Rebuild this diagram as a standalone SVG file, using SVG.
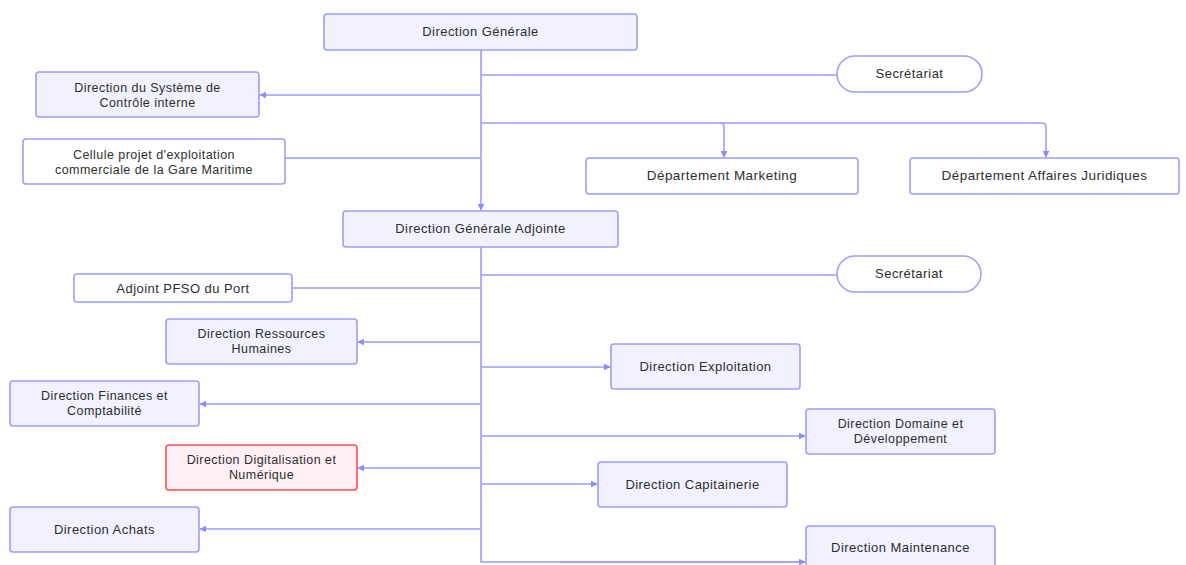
<svg xmlns="http://www.w3.org/2000/svg" width="1186" height="565" viewBox="0 0 1186 565">
  <defs>
    <style>
      .box { fill: #f1f1ff; stroke: #9d9dff; stroke-width: 1.6; }
      .plain { fill: #ffffff; stroke: #9d9dff; stroke-width: 1.6; }
      .alert { fill: #fff0f6; stroke: #ff4d4d; stroke-width: 1.6; }
      .lbl { font-family: "Liberation Sans", Arial, sans-serif; font-size: 13px; letter-spacing: 0.45px; fill: #2e2e2e; text-anchor: middle; dominant-baseline: central; }
      .two { font-size: 12.5px; }
      .edge { fill: none; stroke: #9d9dff; stroke-width: 1.6; }
      .arrow { marker-end: url(#head); }
    </style>
    <marker id="head" viewBox="0 0 10 10" refX="9" refY="5" markerWidth="7" markerHeight="7" markerUnits="userSpaceOnUse" orient="auto">
      <path d="M0,0 L10,5 L0,10 z" fill="#8c8cff"/>
    </marker>
  </defs>
  <rect width="1186" height="565" fill="#ffffff"/>

  <!-- connectors -->
  <g id="connectors">
    <path class="edge arrow" d="M481,50 V210"/>
    <path class="edge" d="M481,75 H837"/>
    <path class="edge arrow" d="M481,95 H260"/>
    <path class="edge arrow" d="M481,123 H720 Q724,123 724,127 V157"/>
    <path class="edge arrow" d="M720,123 H1042 Q1046,123 1046,127 V157"/>
    <path class="edge" d="M481,158 H285"/>
    <path class="edge" d="M481,247 V562 H805"/>
    <path class="edge arrow" d="M560,562 H805"/>
    <path class="edge" d="M481,275 H837"/>
    <path class="edge" d="M481,288 H292"/>
    <path class="edge arrow" d="M481,342 H358"/>
    <path class="edge arrow" d="M481,367 H610"/>
    <path class="edge arrow" d="M481,404 H200"/>
    <path class="edge arrow" d="M481,436 H805"/>
    <path class="edge arrow" d="M481,468 H358"/>
    <path class="edge arrow" d="M481,484 H597"/>
    <path class="edge arrow" d="M481,529 H200"/>
  </g>

  <!-- nodes -->
  <g id="direction-generale">
    <rect class="box" x="324" y="14" width="313" height="36" rx="3"/>
    <text class="lbl" x="480.5" y="31">Direction Générale</text>
  </g>
  <g id="secretariat-dg">
    <rect class="plain" x="837" y="56" width="145" height="36" rx="18"/>
    <text class="lbl" x="909.5" y="73">Secrétariat</text>
  </g>
  <g id="controle-interne">
    <rect class="box" x="36" y="72" width="223" height="45" rx="3"/>
    <text class="lbl two" x="147.5" y="88">Direction du Système de</text>
    <text class="lbl two" x="147.5" y="102.5">Contrôle interne</text>
  </g>
  <g id="cellule-gare">
    <rect class="plain" x="23" y="139" width="262" height="45" rx="3"/>
    <text class="lbl two" x="154" y="155">Cellule projet d'exploitation</text>
    <text class="lbl two" x="154" y="169.5">commerciale de la Gare Maritime</text>
  </g>
  <g id="marketing">
    <rect class="plain" x="586" y="158" width="272" height="36" rx="3"/>
    <text class="lbl" x="722" y="175" style="font-size:13.5px">Département Marketing</text>
  </g>
  <g id="affaires-juridiques">
    <rect class="plain" x="910" y="158" width="269" height="36" rx="3"/>
    <text class="lbl" x="1044.5" y="175" style="font-size:13.5px">Département Affaires Juridiques</text>
  </g>
  <g id="direction-generale-adjointe">
    <rect class="box" x="343" y="211" width="275" height="36" rx="3"/>
    <text class="lbl" x="480.5" y="228">Direction Générale Adjointe</text>
  </g>
  <g id="secretariat-dga">
    <rect class="plain" x="837" y="256" width="144" height="36" rx="18"/>
    <text class="lbl" x="909" y="273">Secrétariat</text>
  </g>
  <g id="adjoint-pfso">
    <rect class="plain" x="74" y="274" width="218" height="28" rx="3"/>
    <text class="lbl" x="183" y="288">Adjoint PFSO du Port</text>
  </g>
  <g id="ressources-humaines">
    <rect class="box" x="166" y="319" width="191" height="45" rx="3"/>
    <text class="lbl two" x="261.5" y="334">Direction Ressources</text>
    <text class="lbl two" x="261.5" y="348.5">Humaines</text>
  </g>
  <g id="exploitation">
    <rect class="box" x="611" y="344" width="189" height="45" rx="3"/>
    <text class="lbl" x="705.5" y="366">Direction Exploitation</text>
  </g>
  <g id="finances">
    <rect class="box" x="10" y="381" width="189" height="45" rx="3"/>
    <text class="lbl two" x="104.5" y="396">Direction Finances et</text>
    <text class="lbl two" x="104.5" y="410.5">Comptabilité</text>
  </g>
  <g id="domaine">
    <rect class="box" x="806" y="409" width="189" height="45" rx="3"/>
    <text class="lbl two" x="900.5" y="424">Direction Domaine et</text>
    <text class="lbl two" x="900.5" y="438.5">Développement</text>
  </g>
  <g id="digitalisation">
    <rect class="alert" x="166" y="445" width="191" height="45" rx="3"/>
    <text class="lbl two" x="261.5" y="460">Direction Digitalisation et</text>
    <text class="lbl two" x="261.5" y="474.5">Numérique</text>
  </g>
  <g id="capitainerie">
    <rect class="box" x="598" y="462" width="189" height="45" rx="3"/>
    <text class="lbl" x="692.5" y="484">Direction Capitainerie</text>
  </g>
  <g id="achats">
    <rect class="box" x="10" y="507" width="189" height="45" rx="3"/>
    <text class="lbl" x="104.5" y="529">Direction Achats</text>
  </g>
  <g id="maintenance">
    <rect class="box" x="806" y="526" width="189" height="45" rx="3"/>
    <text class="lbl" x="900.5" y="547">Direction Maintenance</text>
  </g>
</svg>
